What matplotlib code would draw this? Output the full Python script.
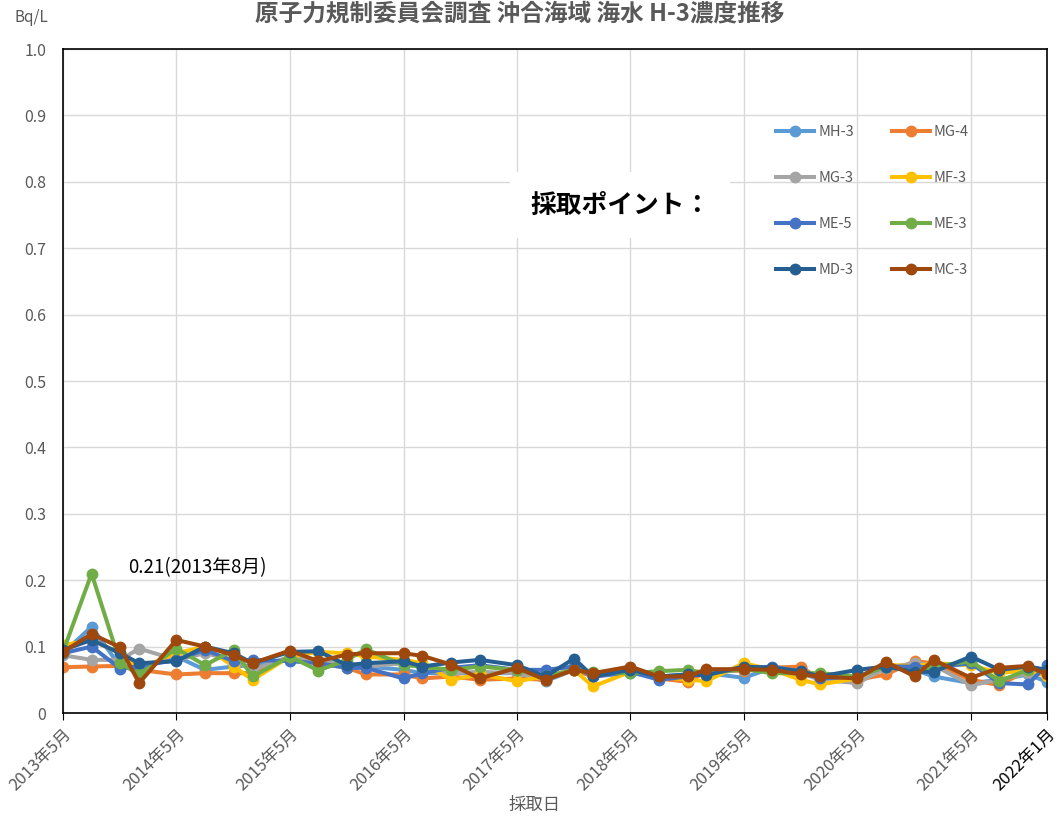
import numpy as np
import pandas as pd
import matplotlib
matplotlib.use('Agg')
import matplotlib.pyplot as plt

plt.rcParams['font.family'] = ['Noto Sans CJK JP', 'DejaVu Sans']

# sampling dates
dates = pd.to_datetime([
    '2013-05-01', '2013-08-01', '2013-11-01', '2014-01-01',
    '2014-05-01', '2014-08-01', '2014-11-01', '2015-01-01',
    '2015-05-01', '2015-08-01', '2015-11-01', '2016-01-01',
    '2016-05-01', '2016-07-01', '2016-10-01', '2017-01-01',
    '2017-05-01', '2017-08-01', '2017-11-01', '2018-01-01',
    '2018-05-01', '2018-08-01', '2018-11-01', '2019-01-01',
    '2019-05-01', '2019-08-01', '2019-11-01', '2020-01-01',
    '2020-05-01', '2020-08-01', '2020-11-01', '2021-01-01',
    '2021-05-01', '2021-08-01', '2021-11-01', '2022-01-01'])

mh3 = [0.090, 0.130, 0.070, 0.070, 0.085, 0.065, 0.070, 0.072, 0.080, 0.080, 0.070, 0.070,
       0.065, 0.060, 0.060, 0.060, 0.060, 0.048, 0.065, 0.055, 0.060, 0.055, 0.058, 0.060,
       0.053, 0.068, 0.068, 0.050, 0.050, 0.068, 0.065, 0.055, 0.045, 0.050, 0.058, 0.047]
mg4 = [0.069, 0.070, 0.071, 0.065, 0.058, 0.060, 0.060, 0.060, 0.085, 0.075, 0.068, 0.058,
       0.058, 0.052, 0.055, 0.050, 0.052, 0.050, 0.065, 0.055, 0.063, 0.052, 0.047, 0.062,
       0.064, 0.068, 0.070, 0.050, 0.050, 0.058, 0.078, 0.075, 0.050, 0.042, 0.065, 0.060]
mg3 = [0.087, 0.080, 0.080, 0.097, 0.080, 0.090, 0.080, 0.065, 0.085, 0.080, 0.075, 0.070,
       0.075, 0.068, 0.060, 0.062, 0.060, 0.050, 0.070, 0.058, 0.062, 0.055, 0.055, 0.060,
       0.065, 0.066, 0.060, 0.050, 0.045, 0.068, 0.075, 0.072, 0.042, 0.050, 0.060, 0.060]
mf3 = [0.102, 0.110, 0.090, 0.067, 0.090, 0.100, 0.070, 0.050, 0.085, 0.092, 0.090, 0.085,
       0.080, 0.075, 0.050, 0.058, 0.048, 0.055, 0.065, 0.040, 0.062, 0.055, 0.050, 0.048,
       0.075, 0.065, 0.050, 0.043, 0.052, 0.073, 0.070, 0.075, 0.072, 0.060, 0.065, 0.055]
me5 = [0.090, 0.100, 0.067, 0.070, 0.080, 0.095, 0.078, 0.080, 0.078, 0.075, 0.068, 0.068,
       0.052, 0.060, 0.068, 0.072, 0.065, 0.065, 0.070, 0.055, 0.062, 0.050, 0.055, 0.060,
       0.067, 0.070, 0.062, 0.052, 0.055, 0.070, 0.070, 0.068, 0.075, 0.045, 0.043, 0.073]
me3 = [0.092, 0.210, 0.075, 0.058, 0.097, 0.072, 0.095, 0.055, 0.085, 0.064, 0.080, 0.096,
       0.072, 0.070, 0.065, 0.070, 0.065, 0.055, 0.065, 0.062, 0.060, 0.063, 0.065, 0.060,
       0.066, 0.060, 0.060, 0.060, 0.055, 0.070, 0.062, 0.070, 0.078, 0.048, 0.065, 0.065]
md3 = [0.095, 0.110, 0.090, 0.075, 0.078, 0.100, 0.090, 0.075, 0.092, 0.093, 0.072, 0.075,
       0.078, 0.070, 0.076, 0.080, 0.072, 0.055, 0.082, 0.055, 0.065, 0.055, 0.058, 0.057,
       0.070, 0.068, 0.063, 0.055, 0.065, 0.070, 0.062, 0.062, 0.085, 0.065, 0.070, 0.065]
mc3 = [0.092, 0.119, 0.099, 0.045, 0.110, 0.100, 0.087, 0.075, 0.094, 0.078, 0.088, 0.090,
       0.090, 0.086, 0.073, 0.052, 0.068, 0.050, 0.065, 0.060, 0.070, 0.055, 0.055, 0.066,
       0.066, 0.065, 0.058, 0.055, 0.052, 0.077, 0.055, 0.080, 0.053, 0.068, 0.071, 0.058]

names = ['MH-3', 'MG-4', 'MG-3', 'MF-3', 'ME-5', 'ME-3', 'MD-3', 'MC-3']
series = [mh3, mg4, mg3, mf3, me5, me3, md3, mc3]
colors = ['#5B9BD5', '#ED7D31', '#A5A5A5', '#FFC000', '#4472C4', '#70AD47', '#255E91', '#9E480E']

tick_dates = pd.to_datetime(['%d-05-01' % y for y in range(2013, 2022)] + ['2022-01-01'])
tick_labels = ['%d年5月' % y for y in range(2013, 2022)] + ['2022年1月']

W, H = 1061, 818
fig = plt.figure(figsize=(W / 100, H / 100), dpi=100)
ax = fig.add_axes([63 / W, 1 - 713 / H, (1047 - 63) / W, (713 - 49) / H])

lines = {}
for n, s, c in zip(names, series, colors):
    l, = ax.plot(dates, s, color=c, lw=2.9, marker='o', ms=7.5, label=n)
    lines[n] = l

ax.set_ylim(0, 1.0)
ax.set_yticks(np.arange(0, 1.01, 0.1))
ax.set_yticklabels(['0'] + ['%.1f' % v for v in np.arange(0.1, 1.01, 0.1)])
ax.set_xlim(tick_dates[0], tick_dates[-1])
ax.set_xticks(tick_dates)
ax.set_xticklabels(tick_labels, rotation=45, ha='right', rotation_mode='anchor')
for t in ax.get_xticklabels()[:-1]:
    t.set_color('#595959')
ax.get_xticklabels()[-1].set_color('black')

ax.grid(True, color='#D9D9D9', lw=1)
ax.set_axisbelow(True)
for sp in ax.spines.values():
    sp.set_color('black')
    sp.set_linewidth(1.2)
ax.tick_params(axis='y', length=0, labelsize=11.5, labelcolor='#595959', pad=12)
ax.tick_params(axis='x', length=5, labelsize=12, pad=4)

fig.text(535 / W, 1 - 805 / H, '採取日', color='#595959', fontsize=12.5,
         ha='center', va='center')

# title sits right at the top edge
fig.text(520 / W, 1 - 1 / H, '原子力規制委員会調査 沖合海域 海水 H-3濃度推移',
         ha='center', va='top', fontsize=17, fontweight='bold', color='#595959')
fig.text(31 / W, 1 - 17 / H, 'Bq/L', ha='center', va='center', fontsize=11, color='#595959')

ax.annotate('0.21(2013年8月)', xy=(pd.Timestamp('2013-08-01'), 0.21),
            xytext=(128 / W, 1 - 568 / H), textcoords='figure fraction',
            fontsize=13.5, color='black', va='center')

fig.text(530 / W, 1 - 205 / H, '採取ポイント：', fontsize=18.5, fontweight='bold',
         va='center', ha='left',
         bbox=dict(facecolor='white', edgecolor='none', pad=14))

order = ['MH-3', 'MG-3', 'ME-5', 'MD-3', 'MG-4', 'MF-3', 'ME-3', 'MC-3']
leg = ax.legend([lines[n] for n in order], order, ncol=2, frameon=False,
                loc='upper left', bbox_to_anchor=(770 / W, 1 - 119 / H),
                bbox_transform=fig.transFigure, fontsize=10.5,
                labelspacing=2.2, columnspacing=2.6, handlelength=2.6,
                handletextpad=0.3, borderaxespad=0)
for t in leg.get_texts():
    t.set_color('#595959')

fig.savefig('out.png', dpi=100)
